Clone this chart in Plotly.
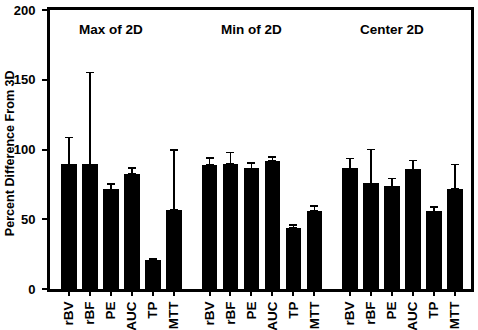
import plotly.graph_objects as go

groups = ["Max of 2D", "Min of 2D", "Center 2D"]
params = ["rBV", "rBF", "PE", "AUC", "TP", "MTT"]
max_vals = [89.4, 89.4, 71.4, 82.6, 21.1, 56.5]
max_err = [19.1, 65.8, 3.8, 4.1, 0.7, 43.1]
min_vals = [89.1, 89.6, 86.5, 92.0, 43.6, 56.0]
min_err = [4.8, 8.4, 3.8, 2.6, 2.4, 3.6]
center_vals = [86.5, 75.7, 73.6, 85.8, 55.6, 71.8]
center_err = [6.9, 24.2, 5.7, 6.2, 3.3, 17.3]
y_ticks = [0, 50, 100, 150, 200]
y_title = "Percent Difference From 3D"

values = [max_vals, min_vals, center_vals]
errors = [max_err, min_err, center_err]
group_step = 6.7

xs, ys, es, tick_text = [], [], [], []
for g in range(len(groups)):
    for i, p in enumerate(params):
        xs.append(g * group_step + i)
        ys.append(values[g][i])
        es.append(errors[g][i])
        tick_text.append(p)

fig = go.Figure()
fig.add_trace(go.Bar(
    x=xs, y=ys, width=0.75,
    marker=dict(color="black", line=dict(width=0)),
    error_y=dict(type="data", array=es, arrayminus=[0] * len(es), symmetric=False,
                 color="black", thickness=1.5, width=4),
    showlegend=False,
))

font_family = "Liberation Sans, Arial, sans-serif"
for g, name in enumerate(groups):
    fig.add_annotation(x=g * group_step + 2, y=185.8, text="<b>%s</b>" % name,
                       showarrow=False, font=dict(family=font_family, size=13.5, color="black"),
                       xanchor="center", yanchor="middle")

plot_w = 421.0
fig.add_annotation(xref="paper", yref="y", x=(9.5 - 50) / plot_w, y=97,
                   text="<b>%s</b>" % y_title, textangle=-90, showarrow=False,
                   xanchor="center", yanchor="middle",
                   font=dict(family=font_family, size=12.6, color="black"))

fig.update_layout(
    width=478, height=330,
    margin=dict(l=50, r=7, t=10, b=41),
    plot_bgcolor="white", paper_bgcolor="white",
    font=dict(family=font_family, color="black"),
    bargap=0,
)
fig.update_xaxes(
    range=[-0.9, 2 * group_step + 5 + 0.76],
    tickmode="array", tickvals=xs, ticktext=["<b>%s</b>" % t for t in tick_text],
    tickangle=-90, ticks="outside", ticklen=4, tickwidth=2, tickcolor="black",
    tickfont=dict(family=font_family, size=13.5, color="black"),
    showline=True, linewidth=3, linecolor="black", mirror=True,
    showgrid=False, zeroline=False, automargin=False,
)
fig.update_yaxes(
    range=[0, 200], tickvals=y_ticks,
    ticktext=["<b>%d</b>" % v for v in y_ticks],
    ticks="outside", ticklen=5, tickwidth=2, tickcolor="black",
    tickfont=dict(family=font_family, size=13, color="black"),
    ticklabeloverflow="allow", ticklabelstandoff=4,
    showline=True, linewidth=3, linecolor="black", mirror=True,
    showgrid=False, zeroline=False, automargin=False,
)

fig.write_html("out.html", config={"displayModeBar": False},
               post_script="document.body.style.margin='0';")
